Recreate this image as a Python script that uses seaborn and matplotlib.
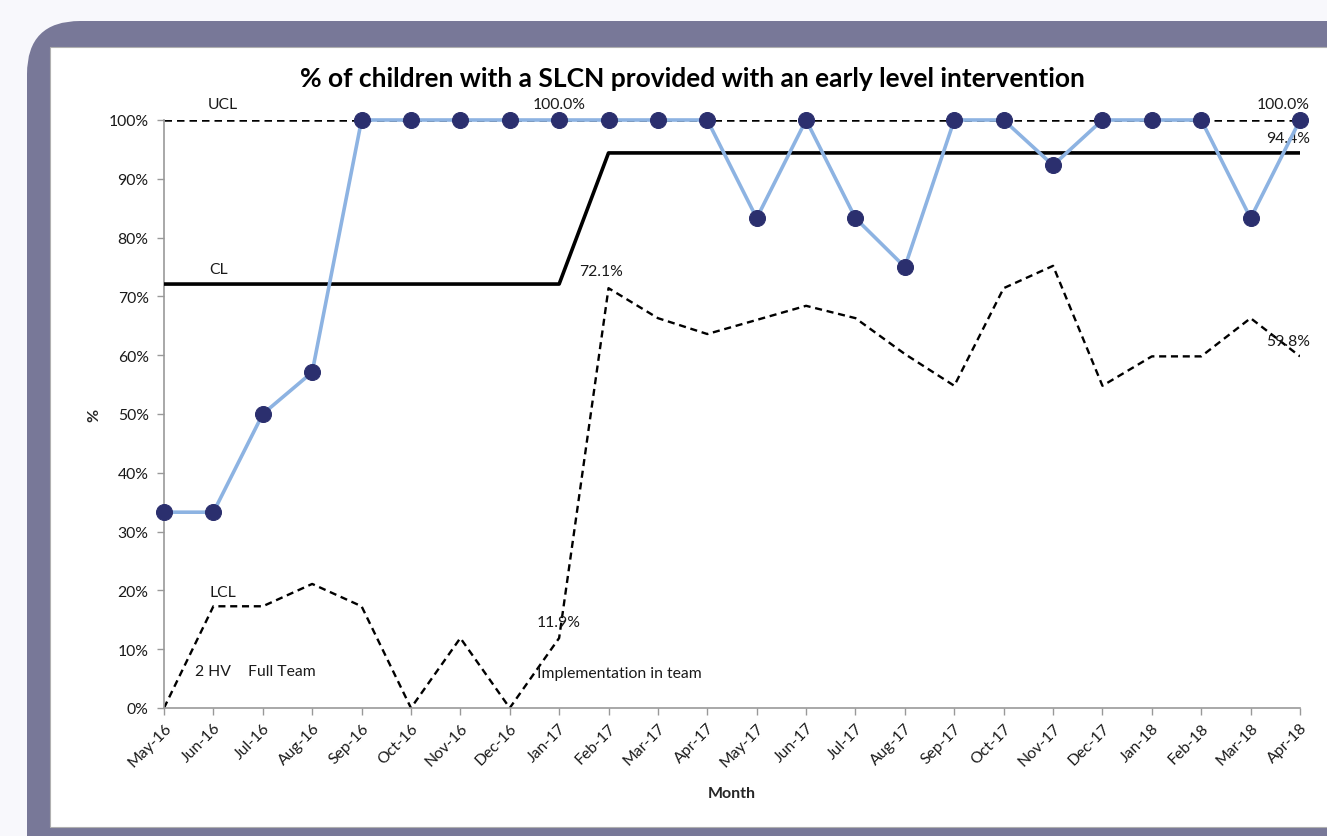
import matplotlib
matplotlib.use("Agg")
import matplotlib.pyplot as plt
from matplotlib.patches import FancyBboxPatch, Rectangle
import seaborn as sns
import pandas as pd

months = ["May-16", "Jun-16", "Jul-16", "Aug-16", "Sep-16", "Oct-16", "Nov-16", "Dec-16",
          "Jan-17", "Feb-17", "Mar-17", "Apr-17", "May-17", "Jun-17", "Jul-17", "Aug-17",
          "Sep-17", "Oct-17", "Nov-17", "Dec-17", "Jan-18", "Feb-18", "Mar-18", "Apr-18"]
pct = [33.3, 33.3, 50.0, 57.1, 100, 100, 100, 100,
       100, 100, 100, 100, 83.3, 100, 83.3, 75.0,
       100, 100, 92.3, 100, 100, 100, 83.3, 100]
cl = [72.1] * 9 + [94.4] * 15
ucl = [100.0] * 24
lcl = [0.0, 17.3, 17.3, 21.1, 17.3, 0.0, 11.9, 0.0,
       11.9, 71.4, 66.3, 63.6, 66.0, 68.4, 66.3, 60.2,
       54.8, 71.4, 75.2, 54.8, 59.8, 59.8, 66.3, 59.8]

df = pd.DataFrame({"idx": range(len(months)), "month": months, "pct": pct,
                   "cl": cl, "ucl": ucl, "lcl": lcl})

sns.set_theme(style="white")
plt.rcParams["font.family"] = ["Lato", "DejaVu Sans"]

W, H = 1327, 837
fig = plt.figure(figsize=(W / 100, H / 100), dpi=100)
fig.patch.set_facecolor("#f8f8fc")

# rounded frame and white panel behind the chart
frame = FancyBboxPatch((27 / W, -0.2), 1.3, (837 - 22) / H + 0.2,
                       boxstyle="round,pad=0,rounding_size=0.04",
                       transform=fig.transFigure, facecolor="#787898",
                       edgecolor="none", mutation_aspect=W / H, zorder=0)
fig.patches.append(frame)
panel = Rectangle((50 / W, 1 - 828 / H), 1.0, (828 - 48) / H,
                  transform=fig.transFigure, facecolor="white",
                  edgecolor="#b0b0b0", linewidth=0.8, zorder=1)
fig.patches.append(panel)

ax = fig.add_axes([164 / W, 1 - 709 / H, (1300 - 164) / W, (709 - 121) / H])
ax.set_zorder(5)
ax.set_facecolor("none")

dash = (0, (3.0, 2.0))
sns.lineplot(data=df, x="idx", y="ucl", ax=ax, color="black", lw=1.8,
             linestyle=dash, zorder=2)
sns.lineplot(data=df, x="idx", y="lcl", ax=ax, color="black", lw=1.7,
             linestyle=dash, zorder=2)
sns.lineplot(data=df, x="idx", y="cl", ax=ax, color="black", lw=2.6, zorder=3)
sns.lineplot(data=df, x="idx", y="pct", ax=ax, color="#8db3e2", lw=2.6, zorder=4,
             marker="o", markersize=11.5, markerfacecolor="#2b2f6e",
             markeredgecolor="#2b2f6e", clip_on=False)

fs = 11.3
ax.set_xlim(0, len(months) - 1)
ax.set_ylim(0, 100)
ax.set_xticks(range(len(months)))
ax.set_xticklabels(months, rotation=45, ha="right", rotation_mode="anchor",
                   fontsize=fs, color="#1a1a1a")
ax.set_yticks(range(0, 101, 10))
ax.set_yticklabels([f"{v}%" for v in range(0, 101, 10)], fontsize=fs, color="#1a1a1a")
ax.tick_params(axis="y", length=5, width=1, color="#999999", direction="out",
               left=True, pad=6)
ax.tick_params(axis="x", length=5, width=1, color="#999999", direction="out",
               bottom=True, pad=4)
for s in ["top", "right"]:
    ax.spines[s].set_visible(False)
for s in ["left", "bottom"]:
    ax.spines[s].set_color("#999999")
    ax.spines[s].set_linewidth(1.2)

ax.set_xlabel("Month", fontsize=11.5, fontweight="bold", labelpad=12)
ax.set_ylabel("%", fontsize=11.5, fontweight="bold", labelpad=5)

fig.text(692 / W, 1 - 79 / H,
         "% of children with a SLCN provided with an early level intervention",
         ha="center", va="center", fontsize=19, fontweight="bold", color="black")

tk = dict(fontsize=fs, color="#1a1a1a")
ax.text(1.2, 102.7, "UCL", ha="center", va="center", **tk)
ax.text(1.1, 74.6, "CL", ha="center", va="center", **tk)
ax.text(1.2, 19.8, "LCL", ha="center", va="center", **tk)
ax.text(1.0, 6.3, "2 HV", ha="center", va="center", **tk)
ax.text(1.7, 6.3, "Full Team", ha="left", va="center", **tk)
ax.text(7.55, 5.9, "Implementation in team", ha="left", va="center", **tk)
ax.text(8.0, 102.7, f"{ucl[8]:.1f}%", ha="center", va="center", **tk)
ax.text(8.4, 74.3, f"{cl[8]:.1f}%", ha="left", va="center", **tk)
ax.text(8.0, 14.7, f"{lcl[8]:.1f}%", ha="center", va="center", **tk)
ax.text(23.2, 102.7, f"{ucl[-1]:.1f}%", ha="right", va="center", **tk)
ax.text(23.2, 96.9, f"{cl[-1]:.1f}%", ha="right", va="center", **tk)
ax.text(23.2, 62.5, f"{lcl[-1]:.1f}%", ha="right", va="center", **tk)

fig.savefig("out.png", dpi=100)
